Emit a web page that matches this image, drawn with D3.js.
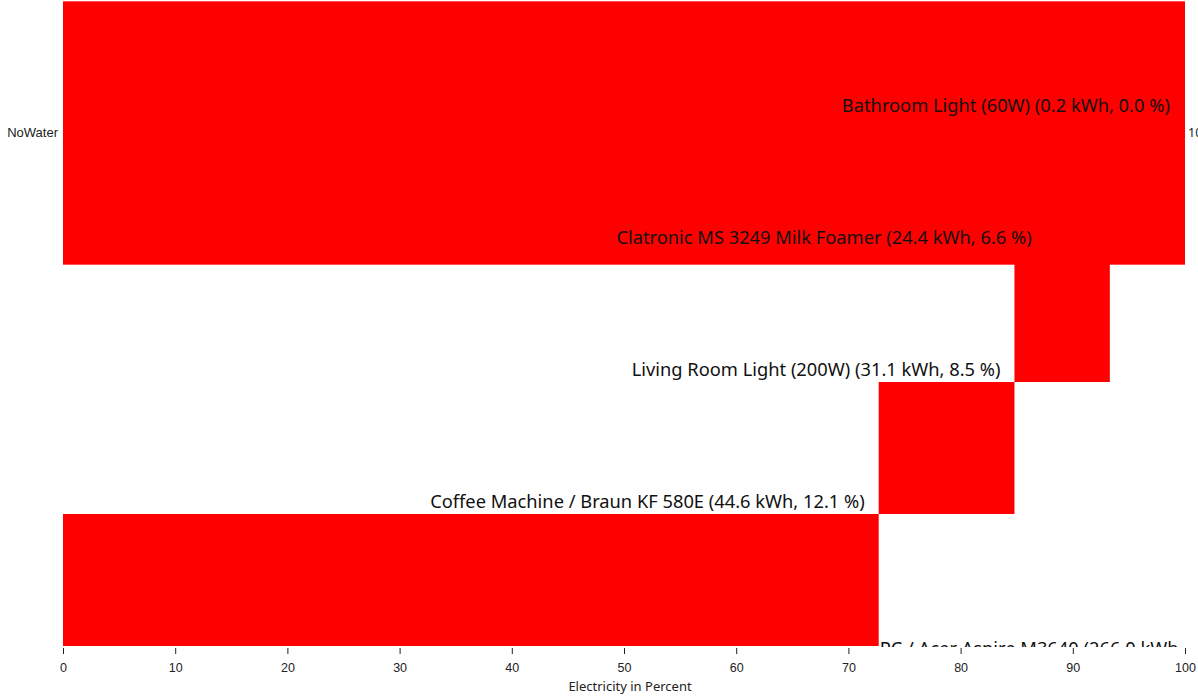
<!DOCTYPE html>
<html>
<head>
<meta charset="utf-8">
<script src="https://cdn.jsdelivr.net/npm/d3@7"></script>
<style>
  html, body { margin: 0; padding: 0; background: #fff; }
  svg { display: block; font-family: "Noto Sans", "Open Sans", sans-serif; }
  .tick text { font-size: 12.5px; fill: #222; }
  .tick line { stroke: #222; }
</style>
</head>
<body>
<svg id="chart" width="1198" height="697"></svg>
<script>
// ---- data ----
const categories = ["NoWater"];
const categoryTotals = [100];
const devices = [
  "PC / Acer Aspire M3640",
  "Coffee Machine / Braun KF 580E",
  "Living Room Light (200W)",
  "Clatronic MS 3249 Milk Foamer",
  "Bathroom Light (60W)"
];
const kwh = [266.0, 44.6, 31.1, 24.4, 0.2];
const percent = [72.7, 12.1, 8.5, 6.6, 0.0];
const xTicks = [0, 10, 20, 30, 40, 50, 60, 70, 80, 90, 100];
const xTitle = "Electricity in Percent";

// ---- layout ----
const W = 1198, H = 697;
const margin = { top: 0, right: 13, bottom: 49, left: 63 };
const innerW = W - margin.left - margin.right;
const innerH = H - margin.top - margin.bottom;

const svg = d3.select("#chart");
const defs = svg.append("defs");
defs.append("clipPath").attr("id", "plotclip")
  .append("rect").attr("x", 0).attr("y", 0).attr("width", innerW).attr("height", innerH - 1);

const g = svg.append("g").attr("transform", `translate(${margin.left},${margin.top})`);

const x = d3.scaleLinear().domain([0, 100]).range([0, innerW]);
const yCat = d3.scaleBand().domain(categories).range([0, 266]).paddingInner(0).paddingOuter(0.005);
const ySeg = d3.scaleBand().domain(devices.slice().reverse()).range([-14, innerH - 2]).padding(0);

// cumulative starts
const segs = devices.map((d, i) => {
  const start = d3.sum(percent.slice(0, i));
  return { name: d, kwh: kwh[i], pct: percent[i], start, end: start + percent[i], i };
});

const plot = g.append("g").attr("clip-path", "url(#plotclip)");

// staircase segments
plot.selectAll("rect.seg").data(segs).join("rect")
  .attr("class", "seg")
  .attr("x", d => x(d.start))
  .attr("width", d => Math.max(0, x(d.end) - x(d.start)))
  .attr("y", d => ySeg(d.name))
  .attr("height", ySeg.bandwidth())
  .attr("fill", "#ff0000");

// category total bar
plot.selectAll("rect.cat").data(categories).join("rect")
  .attr("class", "cat")
  .attr("x", x(0))
  .attr("width", (d, i) => x(categoryTotals[i]) - x(0))
  .attr("y", d => yCat(d))
  .attr("height", yCat.bandwidth())
  .attr("fill", "#ff0000");

// labels
const fmt = d3.format(".1f");
plot.selectAll("text.lbl").data(segs).join("text")
  .attr("class", "lbl")
  .attr("font-size", "18.3px")
  .attr("fill", "#111")
  .attr("text-anchor", d => d.start === 0 ? "start" : "end")
  .attr("x", d => {
    if (d.start === 0) return x(d.end) + 1;
    if (d.name.startsWith("Clatronic")) return x(d.start - d.pct) - 4;
    return x(d.start) - 14;
  })
  .attr("y", d => {
    const bottom = ySeg(d.name) + ySeg.bandwidth();
    return d.start === 0 ? bottom + 9 : bottom - 6;
  })
  .text(d => `${d.name} (${fmt(d.kwh)} kWh, ${fmt(d.pct)} %)`);

// right-hand total label (partially outside the svg)
g.selectAll("text.tot").data(categories).join("text")
  .attr("class", "tot")
  .attr("font-size", "12.5px")
  .attr("fill", "#222")
  .attr("x", (d, i) => x(categoryTotals[i]) + 3)
  .attr("y", d => yCat(d) + yCat.bandwidth() / 2)
  .attr("dy", "0.32em")
  .text((d, i) => String(categoryTotals[i]));

// y axis (category)
const yAxis = g.append("g")
  .call(d3.axisLeft(yCat).tickSize(0).tickPadding(5));
yAxis.select(".domain").remove();
yAxis.selectAll(".tick text").style("font-size", "13px");

// x axis
const xAxis = g.append("g")
  .attr("transform", `translate(0,${innerH})`)
  .call(d3.axisBottom(x).tickValues(xTicks).tickFormat(d3.format("d")).tickSize(6).tickPadding(9));
xAxis.select(".domain").remove();

g.append("text")
  .attr("x", x(50) + 6)
  .attr("y", innerH + 43)
  .attr("text-anchor", "middle")
  .attr("font-size", "13px")
  .attr("fill", "#222")
  .text(xTitle);
</script>
</body>
</html>
